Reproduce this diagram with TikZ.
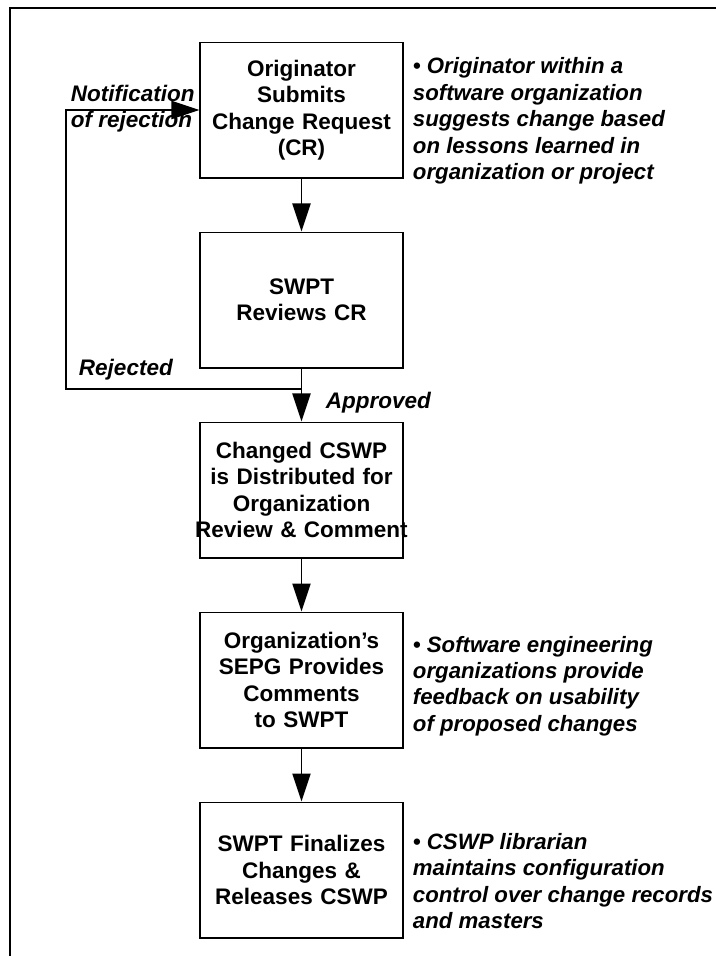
\documentclass[tikz,border=0pt]{standalone}
\usepackage{fontspec}
\setmainfont{Liberation Sans}
\usetikzlibrary{positioning,arrows.meta}

\tikzset{
	process box/.style={draw, text width=5.05cm, minimum height=3.375cm, inner xsep=0pt, align=center,
		font=\bfseries\fontsize{16}{18.8}\selectfont},
	note text/.style={anchor=west, align=left, inner sep=0pt,
		font=\bfseries\itshape\fontsize{15.8}{18.8}\selectfont},
	flow label/.style={anchor=west, align=left, inner sep=0pt,
		font=\bfseries\itshape\fontsize{16}{18.8}\selectfont}
}

\begin{document}
\begin{tikzpicture}[x=0.025cm, y=-0.025cm, line width=1.4pt, >={Triangle[length=0.7cm, width=0.45cm]}]
		\useasboundingbox (0,0) rectangle (716,956);
		\draw (10,956) -- (10,8) -- (716,8);

		\foreach \t [count=\y] in {{Originator\\Submits\\Change Request\\(CR)}, {SWPT\\Reviews CR}, {Changed CSWP\\is Distributed for\\Organization\\\makebox[\linewidth]{Review \& Comment}}, {Organization’s\\SEPG Provides\\Comments\\to SWPT}, {SWPT Finalizes\\Changes \&\\Releases CSWP}}
		\node [process box] (box-\y) at (301.5,190*\y-80) {\t};

		\foreach \i/\j in {1/2,2/3,3/4,4/5}
			\draw [->] (box-\i) -- (box-\j);

		\coordinate (split) at (301.5,389);
		\coordinate (loop) at (66,389);
		\draw [->] (split) -- (loop) |- (box-1.west);

		\node [flow label] (notify) at (70,108.5) {Notification\\of rejection};
		\node [flow label] (rejected) at (78,370) {Rejected};
		\node [flow label] (approved) at (325,403) {Approved};

		\node [note text] (note-1) at (412,121) {• Originator within a\\software organization\\suggests change based\\on lessons learned in\\organization or project};
		\node [note text] (note-2) at (412,686) {• Software engineering\\organizations provide\\feedback on usability\\of proposed changes};
		\node [note text] (note-3) at (412,881) {• CSWP librarian\\maintains configuration\\control over change records\\and masters};

	\end{tikzpicture}
\end{document}
